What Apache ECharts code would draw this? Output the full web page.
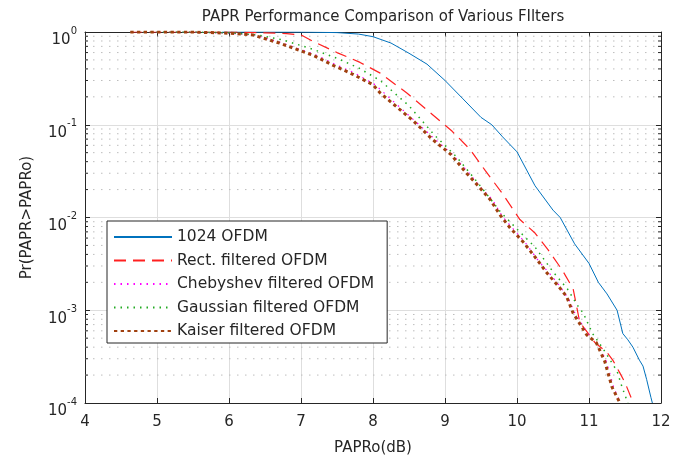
<!DOCTYPE html>
<html><head><meta charset="utf-8">
<script src="https://cdn.jsdelivr.net/npm/echarts@6/dist/echarts.min.js"></script>
<style>html,body{margin:0;padding:0;background:#fff}#c{width:687px;height:463px}</style>
</head><body><div id="c"></div>
<script>
const titleText = 'PAPR Performance Comparison of Various FIlters';
const xName = 'PAPRo(dB)';
const yName = 'Pr(PAPR>PAPRo)';
const seriesNames = ['1024 OFDM', 'Rect. filtered OFDM', 'Chebyshev filtered OFDM', 'Gaussian filtered OFDM', 'Kaiser filtered OFDM'];
const xTickValues = [4, 5, 6, 7, 8, 9, 10, 11, 12];
const yTickExponents = [-4, -3, -2, -1, 0];
const yMinorValues = [2e-4,3e-4,4e-4,5e-4,6e-4,7e-4,8e-4,9e-4,2e-3,3e-3,4e-3,5e-3,6e-3,7e-3,8e-3,9e-3,2e-2,3e-2,4e-2,5e-2,6e-2,7e-2,8e-2,9e-2,0.2,0.3,0.4,0.5,0.6,0.7,0.8,0.9];

const blueX = [5.9, 6.5, 7.0, 7.5, 7.8, 8.0, 8.25, 8.5, 8.75, 9.0, 9.25, 9.5, 9.65, 9.8, 10.0, 10.25, 10.5, 10.6, 10.8, 11.0, 11.13, 11.25, 11.39, 11.47, 11.54, 11.61, 11.7, 11.75, 11.8, 11.86, 11.88];
const blueY = [1, 1, 0.999, 0.985, 0.95, 0.89, 0.76, 0.59, 0.45, 0.30, 0.19, 0.12, 0.10, 0.074, 0.051, 0.022, 0.012, 0.010, 0.0052, 0.0032, 0.0020, 0.0015, 0.0010, 0.00056, 0.00048, 0.0004, 0.00029, 0.00025, 0.00018, 0.000115, 0.0001];

const rectX = [4.63, 6.0, 6.5, 6.8, 7.0, 7.17, 7.5, 7.82, 8.1, 8.47, 8.82, 9.1, 9.35, 9.56, 9.8, 10.04, 10.25, 10.43, 10.63, 10.78, 10.87, 11.08, 11.25, 11.33, 11.43, 11.5, 11.6, 11.62];
const rectY = [1, 1, 0.98, 0.96, 0.93, 0.79, 0.60, 0.47, 0.36, 0.22, 0.13, 0.085, 0.054, 0.032, 0.018, 0.0095, 0.0068, 0.0045, 0.0027, 0.0017, 0.00075, 0.00045, 0.00035, 0.00029, 0.00021, 0.000166, 0.000107, 0.0001];

const chebX = [4.63, 5.5, 6.0, 6.35, 6.72, 7.2, 7.47, 7.75, 8.03, 8.58, 8.86, 9.1, 9.32, 9.5, 9.66, 9.8, 9.93, 10.12, 10.3, 10.45, 10.6, 10.72, 10.8, 10.99, 11.12, 11.23, 11.28, 11.34, 11.4, 11.44];
const chebY = [1, 1, 0.97, 0.93, 0.77, 0.57, 0.45, 0.36, 0.27, 0.11, 0.07, 0.048, 0.031, 0.021, 0.0155, 0.0102, 0.0078, 0.0053, 0.0034, 0.0025, 0.0018, 0.0013, 0.00095, 0.00055, 0.00042, 0.0003, 0.00022, 0.00015, 0.000115, 0.0001];

const gaussX = [4.63, 5.5, 6.0, 6.4, 6.75, 7.17, 7.5, 7.8, 8.1, 8.5, 8.85, 9.16, 9.45, 9.77, 10.0, 10.25, 10.5, 10.7, 10.85, 10.92, 11.05, 11.2, 11.39, 11.46, 11.54];
const gaussY = [1, 1, 0.98, 0.93, 0.82, 0.65, 0.52, 0.41, 0.30, 0.16, 0.078, 0.045, 0.024, 0.0115, 0.0075, 0.0048, 0.0026, 0.0017, 0.0011, 0.00093, 0.00056, 0.00038, 0.00022, 0.000148, 0.0001];

const kaiserX = [4.63, 5.5, 6.0, 6.33, 6.7, 7.17, 7.44, 7.72, 8.0, 8.1, 8.56, 8.83, 9.08, 9.3, 9.46, 9.63, 9.77, 9.9, 10.09, 10.28, 10.42, 10.58, 10.69, 10.78, 10.97, 11.1, 11.22, 11.25, 11.32, 11.39, 11.43];
const kaiserY = [1, 1, 0.97, 0.93, 0.76, 0.56, 0.44, 0.35, 0.27, 0.22, 0.11, 0.069, 0.048, 0.030, 0.022, 0.0155, 0.0105, 0.0078, 0.0054, 0.0035, 0.0025, 0.0018, 0.0014, 0.00093, 0.00054, 0.00045, 0.00028, 0.00023, 0.000148, 0.000115, 0.0001];

const X_MIN = 4, X_MAX = 12, Y_MIN = 1e-4, Y_MAX = 1;
const FONT = 'DejaVu Sans';
const TXT = '#262626';
const pair = (xs, ys) => xs.map((x, i) => [x, ys[i]]);

const chart = echarts.init(document.getElementById('c'));
const supLabel = {
  formatter: v => '{b|10}{s|' + Math.round(Math.log10(v)) + '}',
  margin: 8,
  padding: [10, 0, 0, 0],
  rich: {
    b: { fontFamily: FONT, fontSize: 15, color: TXT, verticalAlign: 'bottom', lineHeight: 22 },
    s: { fontFamily: FONT, fontSize: 10, color: TXT, verticalAlign: 'top', lineHeight: 6 }
  }
};
const mkLine = (name, xs, ys, color, width, type) => ({
  name, type: 'line', data: pair(xs, ys), symbol: 'none', showSymbol: false,
  xAxisIndex: 0, yAxisIndex: 0, z: 3, animation: false,
  lineStyle: { color, width, type }, itemStyle: { color }
});

chart.setOption({
  animation: false,
  backgroundColor: '#fff',
  title: { text: titleText, left: 378, top: 5, textAlign: 'center',
    textStyle: { fontFamily: FONT, fontSize: 15, fontWeight: 'normal', color: TXT } },
  grid: { left: 85, right: 26, top: 32, bottom: 60, containLabel: false },
  legend: {
    orient: 'vertical', left: 107, top: 221, padding: [7, 13, 3, 6], itemGap: 5.5,
    itemWidth: 58, itemHeight: 14, backgroundColor: '#fff', borderColor: TXT, borderWidth: 1,
    borderRadius: 0, data: seriesNames,
    itemStyle: { opacity: 0 },
    textStyle: { fontFamily: FONT, fontSize: 15.5, color: TXT, lineHeight: 18 }
  },
  xAxis: [
    { type: 'value', min: X_MIN, max: X_MAX, interval: 1, position: 'bottom',
      name: xName, nameLocation: 'middle', nameGap: 38,
      nameTextStyle: { fontFamily: FONT, fontSize: 15, color: TXT },
      axisLine: { lineStyle: { color: TXT, width: 1 } },
      axisTick: { inside: true, length: 5, lineStyle: { color: TXT } },
      axisLabel: { fontFamily: FONT, fontSize: 15, color: TXT, margin: 12,
        formatter: v => xTickValues.includes(v) ? String(v) : '' },
      splitLine: { show: true, lineStyle: { color: '#dedede', width: 1 } } },
    { type: 'value', min: X_MIN, max: X_MAX, interval: 1, position: 'top',
      axisLine: { lineStyle: { color: TXT, width: 1 } },
      axisTick: { inside: true, length: 5, lineStyle: { color: TXT } },
      axisLabel: { show: false }, splitLine: { show: false } }
  ],
  yAxis: [
    { type: 'log', logBase: 10, min: Y_MIN, max: Y_MAX, position: 'left',
      name: yName, nameLocation: 'middle', nameGap: 50,
      nameTextStyle: { fontFamily: FONT, fontSize: 15, color: TXT },
      axisLine: { lineStyle: { color: TXT, width: 1 } },
      axisTick: { inside: true, length: 5, lineStyle: { color: TXT } },
      axisLabel: supLabel,
      splitLine: { show: true, lineStyle: { color: '#dedede', width: 1 } } },
    { type: 'log', logBase: 10, min: Y_MIN, max: Y_MAX, position: 'right',
      axisLine: { lineStyle: { color: TXT, width: 1 } },
      axisTick: { inside: true, length: 5, lineStyle: { color: TXT } },
      axisLabel: { show: false }, splitLine: { show: false } }
  ],
  series: [
    { type: 'custom', name: 'minor', xAxisIndex: 0, yAxisIndex: 0, z: 1, silent: true,
      data: yMinorValues.map(v => [X_MIN, v]),
      renderItem: (params, api) => {
        const v = api.value(1);
        const a = api.coord([X_MIN, v]);
        const b = api.coord([X_MAX, v]);
        return { type: 'group', children: [
          { type: 'line', shape: { x1: a[0], y1: a[1], x2: b[0], y2: b[1] },
            style: { stroke: '#bdbdbd', lineWidth: 1, lineDash: [1.5, 6.5] } },
          { type: 'line', shape: { x1: a[0], y1: a[1], x2: a[0] + 3, y2: a[1] },
            style: { stroke: TXT, lineWidth: 1 } },
          { type: 'line', shape: { x1: b[0] - 3, y1: b[1], x2: b[0], y2: b[1] },
            style: { stroke: TXT, lineWidth: 1 } }
        ] };
      } },
    mkLine(seriesNames[0], blueX, blueY, '#0072BD', 1, 'solid'),
    mkLine(seriesNames[1], rectX, rectY, '#FF2020', 1.2, [12, 7]),
    mkLine(seriesNames[2], chebX, chebY, '#FF00FF', 1.2, [1.5, 5]),
    mkLine(seriesNames[3], gaussX, gaussY, '#22AA22', 1.5, [1.5, 5]),
    mkLine(seriesNames[4], kaiserX, kaiserY, '#A0400F', 3, [3.3, 3.4])
  ]
});
</script>
</body></html>
